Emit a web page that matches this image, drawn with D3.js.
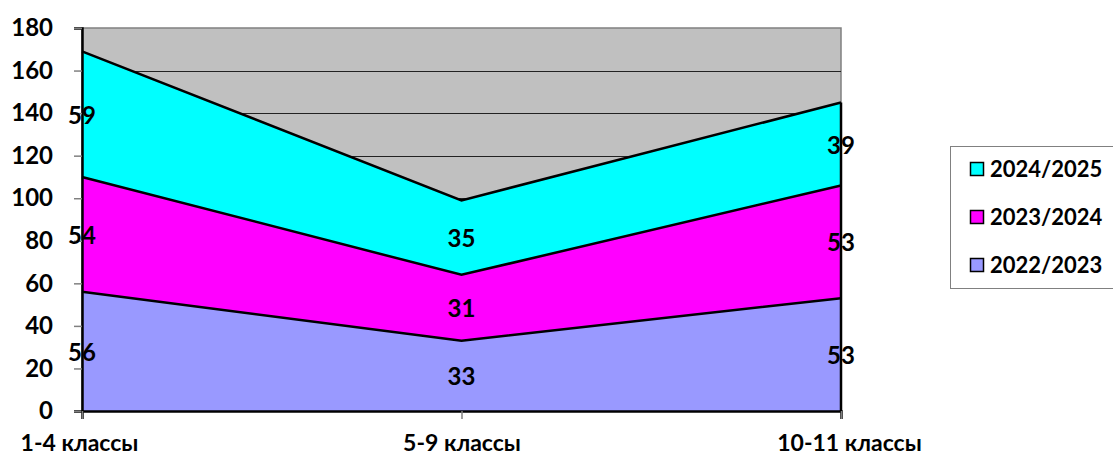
<!DOCTYPE html>
<html><head><meta charset="utf-8">
<script src="https://cdn.jsdelivr.net/npm/d3@7"></script>
<style>body{margin:0;background:#fff}svg{display:block}text{font-family:Lato,"Open Sans",sans-serif;font-weight:bold}</style>
</head><body><svg id="c" width="1113" height="458"></svg>
<script>
const categories = ["1-4 классы", "5-9 классы", "10-11 классы"];
const seriesNames = ["2022/2023", "2023/2024", "2024/2025"];
const s2022 = [56, 33, 53];
const s2023 = [54, 31, 53];
const s2024 = [59, 35, 39];
const yTicks = [0, 20, 40, 60, 80, 100, 120, 140, 160, 180];
const colors = ["#9999FF", "#FF00FF", "#00FFFF"];

const svg = d3.select("#c");
const L = 82, R = 841, T = 28, B = 411;
const x = d3.scalePoint().domain(categories).range([L, R]).padding(0);
const y = d3.scaleLinear().domain([0, 180]).range([B, T]);

const rows = categories.map((c, i) => ({cat: c, "2022/2023": s2022[i], "2023/2024": s2023[i], "2024/2025": s2024[i]}));
const stacked = d3.stack().keys(seriesNames)(rows);

svg.append("rect").attr("x", L).attr("y", T).attr("width", R - L).attr("height", B - T)
  .attr("fill", "#C0C0C0").attr("stroke", "#808080").attr("stroke-width", 1.5);
svg.append("g").selectAll("line").data(yTicks.filter(t => t > 0 && t < 180)).join("line")
  .attr("x1", L).attr("x2", R).attr("y1", d => Math.round(y(d)) + 0.5).attr("y2", d => Math.round(y(d)) + 0.5)
  .attr("stroke", "#222").attr("stroke-width", 1);

const area = d3.area().x(d => x(d.data.cat)).y0(d => y(d[0])).y1(d => y(d[1]));
svg.append("g").selectAll("path").data(stacked).join("path")
  .attr("d", area).attr("fill", (d, i) => colors[i]);
const line = d3.line().x(d => x(d.data.cat)).y(d => y(d[1]));
svg.append("g").selectAll("path").data(stacked).join("path")
  .attr("d", line).attr("fill", "none").attr("stroke", "#000").attr("stroke-width", 2.5);
svg.append("line").attr("x1", R).attr("x2", R).attr("y1", y(0)).attr("y2", y(stacked[2][2][1]))
  .attr("stroke", "#000").attr("stroke-width", 2.5);

const yAxis = d3.axisLeft(y).tickValues(yTicks).tickSize(8).tickPadding(21);
const gy = svg.append("g").attr("transform", `translate(${L},0)`).call(yAxis);
gy.select(".domain").attr("stroke", "#000").attr("stroke-width", 2.5);
gy.selectAll(".tick line").attr("stroke", "#808080").attr("stroke-width", 1.5);
gy.selectAll("text").attr("font-size", 24).attr("fill", "#000");

const xAxis = d3.axisBottom(x).tickSize(8).tickPadding(16);
const gx = svg.append("g").attr("transform", `translate(0,${B})`).call(xAxis);
gx.select(".domain").attr("stroke", "#000").attr("stroke-width", 2.5);
gx.selectAll(".tick line").attr("stroke", "#808080").attr("stroke-width", 1.5);
gx.selectAll("text").attr("font-size", 23).attr("fill", "#000").attr("dy", "0.7em");
gx.selectAll(".tick text").attr("dx", (d, i) => i === 0 ? -3 : (i === 1 ? 0 : 8));

stacked.forEach(s => {
  svg.append("g").selectAll("text").data(s).join("text")
    .attr("x", d => x(d.data.cat)).attr("y", d => y((d[0] + d[1]) / 2))
    .attr("text-anchor", "middle").attr("dy", "0.4em").attr("font-size", 24).attr("fill", "#000")
    .text(d => d[1] - d[0]);
});

const lg = svg.append("g");
lg.append("rect").attr("x", 950.5).attr("y", 146.5).attr("width", 170).attr("height", 142)
  .attr("fill", "#fff").attr("stroke", "#808080").attr("stroke-width", 1);
const legendOrder = seriesNames.slice().reverse();
legendOrder.forEach((n, i) => {
  const cy = 169 + i * 48;
  lg.append("rect").attr("x", 970.5).attr("y", cy - 6.5).attr("width", 13).attr("height", 13)
    .attr("fill", colors[seriesNames.indexOf(n)]).attr("stroke", "#000").attr("stroke-width", 1.5);
  lg.append("text").attr("x", 990).attr("y", cy).attr("dy", "0.36em").attr("font-size", 22).attr("fill", "#000").text(n);
});
</script></body></html>
